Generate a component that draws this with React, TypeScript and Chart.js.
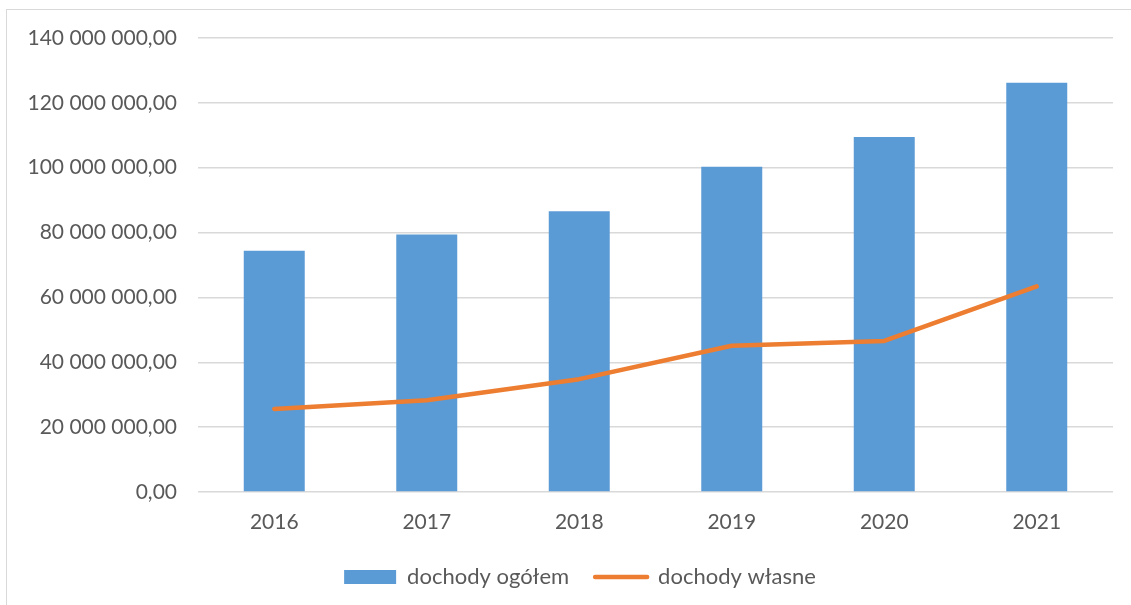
import React, { useEffect, useRef } from 'react';
import { Chart, registerables } from 'chart.js';

Chart.register(...registerables);

const years = ['2016', '2017', '2018', '2019', '2020', '2021'];
const dochodyOgolem = [74400000, 79400000, 86600000, 100300000, 109500000, 126200000];
const dochodyWlasne = [25600000, 28300000, 34800000, 45100000, 46600000, 63400000];
const seriesLabels = ['dochody ogółem', 'dochody własne'];

const BLUE = '#5B9BD5';
const ORANGE = '#ED7D31';
const TEXT = '#595959';
const GRID = '#d9d9d9';
const FONT = 'Lato, "Open Sans", sans-serif';

const formatPl = (v: number) =>
  Math.round(v).toString().replace(/\B(?=(\d{3})+(?!\d))/g, ' ') + ',00';

// the original legend is centred a bit right of the canvas middle
const legendShift = {
  id: 'legendShift',
  afterLayout: (chart: any) => {
    if (chart.legend) chart.legend.left = 47;
  },
};

const App = () => {
  const canvasRef = useRef<HTMLCanvasElement>(null);
  const chartRef = useRef<Chart | null>(null);

  useEffect(() => {
    if (!canvasRef.current) return;
    const ctx = canvasRef.current.getContext('2d');
    if (!ctx) return;
    if (chartRef.current) chartRef.current.destroy();

    chartRef.current = new Chart(ctx, {
      type: 'bar',
      data: {
        labels: years,
        datasets: [
          {
            type: 'bar',
            label: seriesLabels[0],
            data: dochodyOgolem,
            backgroundColor: BLUE,
            categoryPercentage: 1,
            barPercentage: 0.4,
            order: 1,
          },
          {
            type: 'line',
            label: seriesLabels[1],
            data: dochodyWlasne,
            borderColor: ORANGE,
            backgroundColor: ORANGE,
            borderWidth: 4.5,
            pointRadius: 0,
            tension: 0,
            borderJoinStyle: 'round',
            borderCapStyle: 'round',
            fill: false,
            order: 0,
          },
        ],
      },
      plugins: [legendShift],
      options: {
        responsive: false,
        animation: false,
        layout: { padding: { top: 38, right: 18, bottom: 7, left: 0 } },
        scales: {
          x: {
            grid: { display: false },
            border: { display: false },
            ticks: { color: TEXT, font: { family: FONT, size: 21 }, padding: 10 },
            afterFit: (scale: any) => {
              scale.height = 48;
            },
          },
          y: {
            min: 0,
            max: 140000000,
            grid: { color: GRID, lineWidth: 1.5, drawTicks: false },
            border: { display: false },
            ticks: {
              stepSize: 20000000,
              color: TEXT,
              font: { family: FONT, size: 21 },
              padding: 21,
              callback: (v: any) => formatPl(Number(v)),
            },
            afterFit: (scale: any) => {
              scale.width = 198;
            },
          },
        },
        plugins: {
          tooltip: { enabled: false },
          legend: {
            position: 'bottom',
            labels: {
              color: TEXT,
              font: { family: FONT, size: 22 },
              usePointStyle: true,
              pointStyleWidth: 52,
              boxHeight: 14,
              padding: 26,
              generateLabels: (chart: any) =>
                chart.data.datasets.map((ds: any, i: number) => ({
                  text: ds.label,
                  datasetIndex: i,
                  fillStyle: i === 0 ? BLUE : ORANGE,
                  strokeStyle: i === 0 ? BLUE : ORANGE,
                  lineWidth: i === 0 ? 0 : 4.5,
                  lineCap: 'round',
                  pointStyle: i === 0 ? 'rect' : 'line',
                  fontColor: TEXT,
                  hidden: false,
                })),
            },
          },
        },
      },
    });

    return () => {
      if (chartRef.current) {
        chartRef.current.destroy();
        chartRef.current = null;
      }
    };
  }, []);

  return (
    <div style={{ position: 'fixed', left: 0, top: 0, width: 1131, height: 605, background: '#fff', overflow: 'hidden' }}>
      <div
        style={{
          position: 'absolute',
          left: 6,
          top: 9,
          width: 1140,
          height: 620,
          border: '1px solid #d9d9d9',
        }}
      />
      <canvas ref={canvasRef} width={1131} height={605} style={{ position: 'absolute', left: 0, top: 0 }} />
    </div>
  );
};

export default App;
